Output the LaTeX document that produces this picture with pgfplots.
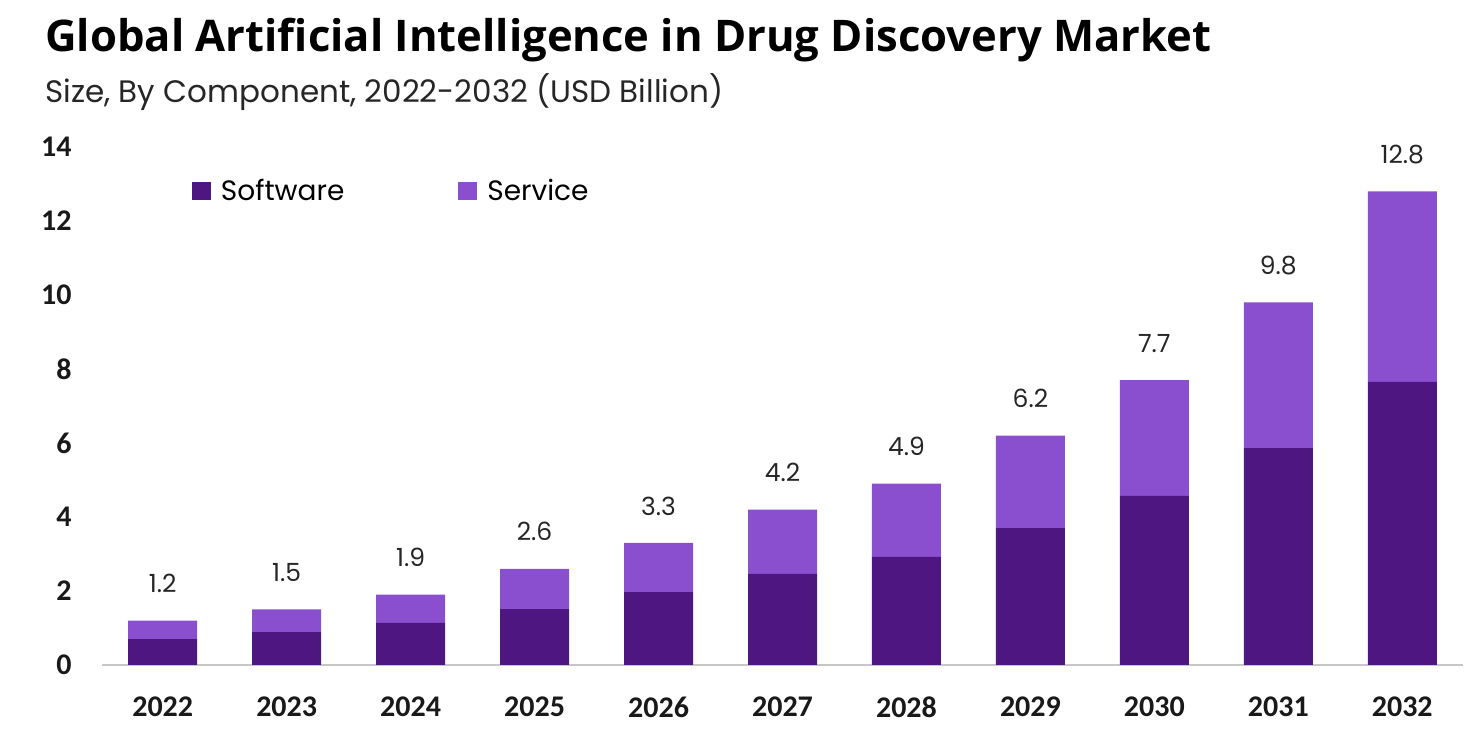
\documentclass[border=0pt]{standalone}
\usepackage{fontspec}
\setmainfont{Poppins}
\newfontfamily\titlefont{Open Sans}
\newfontfamily\tickfont{Carlito}
\usepackage{pgfplots}
\usepackage{pgfplotstable}
\pgfplotsset{compat=1.18}

\definecolor{software}{HTML}{4E1680}
\definecolor{service}{HTML}{8A4FCF}

% year index, software, service, total (USD billion)
\pgfplotstableread{
x  sw    sv    tot
0  0.70  0.50  1.2
1  0.89  0.61  1.5
2  1.14  0.76  1.9
3  1.51  1.09  2.6
4  1.97  1.33  3.3
5  2.46  1.74  4.2
6  2.92  1.98  4.9
7  3.70  2.50  6.2
8  4.57  3.13  7.7
9  5.86  3.94  9.8
10 7.65  5.15  12.8
}\marketdata

\begin{document}
\begin{tikzpicture}
\useasboundingbox (-51pt,-36.5pt) rectangle (688.5pt,332.5pt);
\begin{axis}[
    scale only axis,
    width=680.5pt, height=259pt,
    xmin=-0.49, xmax=10.49,
    ymin=0, ymax=14,
    ybar stacked,
    bar width=34.5pt,
    clip=false,
    axis lines*=left,
    x axis line style={draw=black!22, line width=0.8pt, -},
    y axis line style={draw=none},
    major tick length=0pt,
    xtick={0,...,10},
    xticklabels={2022,2023,2024,2025,2026,2027,2028,2029,2030,2031,2032},
    ytick={0,2,...,14},
    /pgf/number format/assume math mode=true,
    ticklabel style={font=\tickfont\bfseries\fontsize{15}{15}\selectfont, text=black!90},
    xticklabel style={anchor=center, yshift=-21pt},
    yticklabel style={anchor=east, inner sep=0pt, xshift=-15pt},
    legend style={
        at={(0.0661,0.915)}, anchor=west,
        draw=none, fill=none, inner sep=0pt, outer sep=0pt,
        legend columns=2,
        font=\fontsize{14}{14}\selectfont,
        /tikz/every odd column/.append style={column sep=3pt},
        /tikz/every even column/.append style={column sep=55pt},
    },
    legend image code/.code={\fill[#1] (0pt,-4.5pt) rectangle (9.5pt,4.5pt);},
]
\addplot[fill=software, draw=none] table[x=x, y=sw] {\marketdata};
\addlegendentry{Software}
% stacked labels sit mid-segment: lift them by half the segment (18.5pt per unit) plus a gap
\addplot[fill=service, draw=none,
    point meta=explicit,
    visualization depends on={\thisrow{sv} \as \seg},
    nodes near coords={\pgfmathprintnumber[fixed,precision=1,zerofill]{\pgfplotspointmeta}},
    every node near coord/.append style={inner sep=0pt, anchor=center,
        yshift={\seg*9.25pt+18.5pt},
        text=black!85, font=\fontsize{12.5}{12.5}\selectfont},
] table[x=x, y=sv, meta=tot] {\marketdata};
\addlegendentry{Service}
\end{axis}
\node[anchor=base west, inner sep=0pt, font=\titlefont\bfseries\fontsize{21.8}{21.8}\selectfont]
    at (-28.5pt,306.5pt) {Global Artificial Intelligence in Drug Discovery Market};
\node[anchor=base west, inner sep=0pt, text=black!85, font=\fontsize{15.5}{15.5}\selectfont]
    at (-28.5pt,281pt) {Size, By Component, 2022-2032 (USD Billion)};
\end{tikzpicture}
\end{document}
